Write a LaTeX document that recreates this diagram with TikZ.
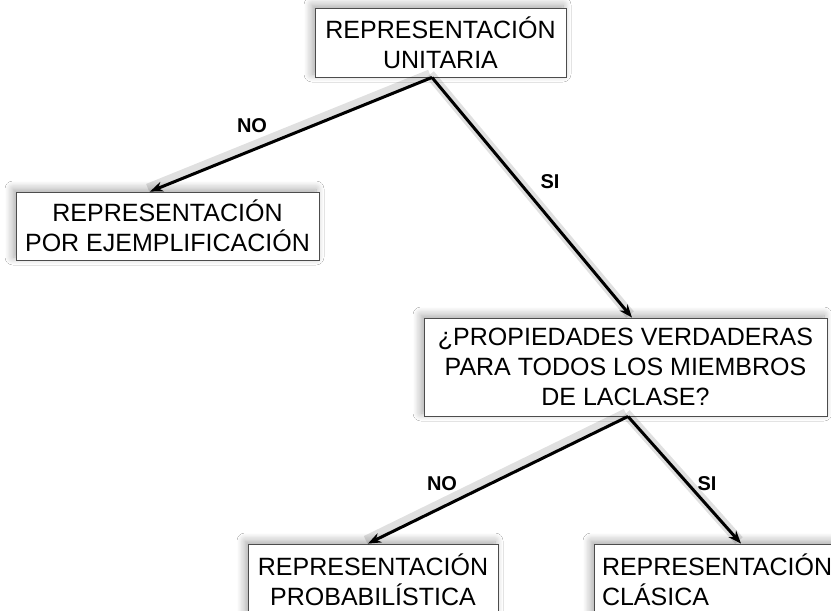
\documentclass[tikz,border=0pt]{standalone}
\usepackage{fontspec}
\setmainfont{Liberation Sans}
\usetikzlibrary{arrows.meta,shadows.blur}
\begin{document}
\begin{tikzpicture}[x=1pt,y=-1pt,
  box/.style={draw=black!70, line width=0.9pt, fill=white, inner sep=0pt, align=center,
    font=\fontsize{25}{30}\selectfont,
    blur shadow={shadow xshift=-3pt, shadow yshift=3pt, shadow blur steps=10, shadow blur radius=8pt, shadow opacity=35}},
  arr/.style={line width=3pt, -{Stealth[length=13pt,width=10pt]},
    preaction={draw=black, -, opacity=0.12, line width=10pt, transform canvas={shift={(-2pt,3pt)}}}},
  lbl/.style={font=\fontsize{20}{22}\selectfont\bfseries}]
\useasboundingbox (0,0) rectangle (831,611);
\clip (0,0) rectangle (831,611);
\fill[white] (0,0) rectangle (831,611);
\node[box, minimum width=251, minimum height=69] (top) at (440.5,42.5) {REPRESENTACIÓN\\UNITARIA};
\node[box, minimum width=303, minimum height=68] (ejem) at (167.5,226) {REPRESENTACIÓN\\POR EJEMPLIFICACIÓN};
\node[box, minimum width=403, minimum height=98] (prop) at (625.5,367) {¿PROPIEDADES VERDADERAS\\PARA TODOS LOS MIEMBROS\\DE LACLASE?};
\node[box, minimum width=250, minimum height=72] (prob) at (373,580) {REPRESENTACIÓN\\PROBABILÍSTICA};
\node[box, minimum width=266, minimum height=72, align=left, text width=250pt] (clas) at (727,580) {REPRESENTACIÓN\\CLÁSICA};
\coordinate (a1) at ([xshift=-8.5pt]top.south);
\coordinate (a2) at ([xshift=2.5pt]prop.south);
\draw[arr] (a1) -- ([xshift=-17.5pt]ejem.north);
\draw[arr] (a1) -- ([xshift=6.5pt]prop.north);
\draw[arr] (a2) -- ([xshift=-5pt]prob.north);
\draw[arr] (a2) -- ([xshift=14pt]clas.north);
\node[lbl] (no1) at (252,126) {NO};
\node[lbl] (si1) at (550,182) {SI};
\node[lbl] (no2) at (442,484) {NO};
\node[lbl] (si2) at (707,484) {SI};
\end{tikzpicture}
\end{document}
